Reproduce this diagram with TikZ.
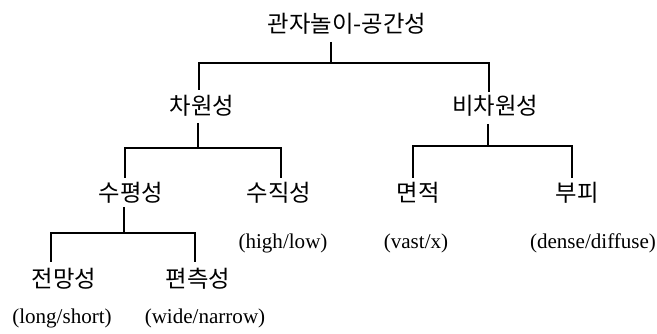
\documentclass[tikz,border=0pt]{standalone}
\usepackage{fontspec}
\setmainfont{Liberation Serif}
\newfontfamily\kr{Noto Sans CJK KR}
\begin{document}
\begin{tikzpicture}[x=0.75pt,y=-0.75pt,
  kor/.style={font=\kr\fontsize{17.5}{19}\selectfont, inner sep=0pt},
  lat/.style={font=\fontsize{15.8}{17}\selectfont, inner sep=0pt},
  conn/.style={line width=1.1pt}]
\useasboundingbox (0,0) rectangle (657,334);
% nodes
\node[kor] (root) at (347,24) {관자놀이-공간성};
\node[kor] (cha) at (202,106) {차원성};
\node[kor] (bicha) at (495,106) {비차원성};
\node[kor] (supy) at (131,193) {수평성};
\node[kor] (sujik) at (279,193) {수직성};
\node[kor] (myeon) at (418,193) {면적};
\node[kor] (bupi) at (577,193) {부피};
\node[kor] (jeon) at (64,279) {전망성};
\node[kor] (pyeon) at (198,279) {편측성};
\node[lat] (hl) at (283,243) {(high/low)};
\node[lat] (vx) at (416,243) {(vast/x)};
\node[lat] (dd) at (593,243) {(dense/diffuse)};
\node[lat] (ls) at (62,318) {(long/short)};
\node[lat] (wn) at (205,318) {(wide/narrow)};
% connector points
\coordinate (r0) at (331,42);   \coordinate (r1) at (331,63);
\coordinate (a0) at (199,63);   \coordinate (a1) at (199,90);
\coordinate (b0) at (489,63);   \coordinate (b1) at (489,92);
\coordinate (c0) at (198,123);  \coordinate (c1) at (198,148);
\coordinate (c2) at (125,148);  \coordinate (c3) at (125,178);
\coordinate (c4) at (281,148);  \coordinate (c5) at (281,178);
\coordinate (d0) at (488,124);  \coordinate (d1) at (488,146);
\coordinate (d2) at (413,146);  \coordinate (d3) at (413,178);
\coordinate (d4) at (572,146);  \coordinate (d5) at (572,178);
\coordinate (e0) at (124,207);  \coordinate (e1) at (124,233);
\coordinate (e2) at (51,233);   \coordinate (e3) at (51,262);
\coordinate (e4) at (195,233);  \coordinate (e5) at (195,262);
% connectors
\draw[conn] (r0) -- (r1);
\draw[conn] (a1) -- (a0) -- (b0) -- (b1);
\draw[conn] (c0) -- (c1);
\draw[conn] (c3) -- (c2) -- (c4) -- (c5);
\draw[conn] (d0) -- (d1);
\draw[conn] (d3) -- (d2) -- (d4) -- (d5);
\draw[conn] (e0) -- (e1);
\draw[conn] (e3) -- (e2) -- (e4) -- (e5);
\end{tikzpicture}
\end{document}
